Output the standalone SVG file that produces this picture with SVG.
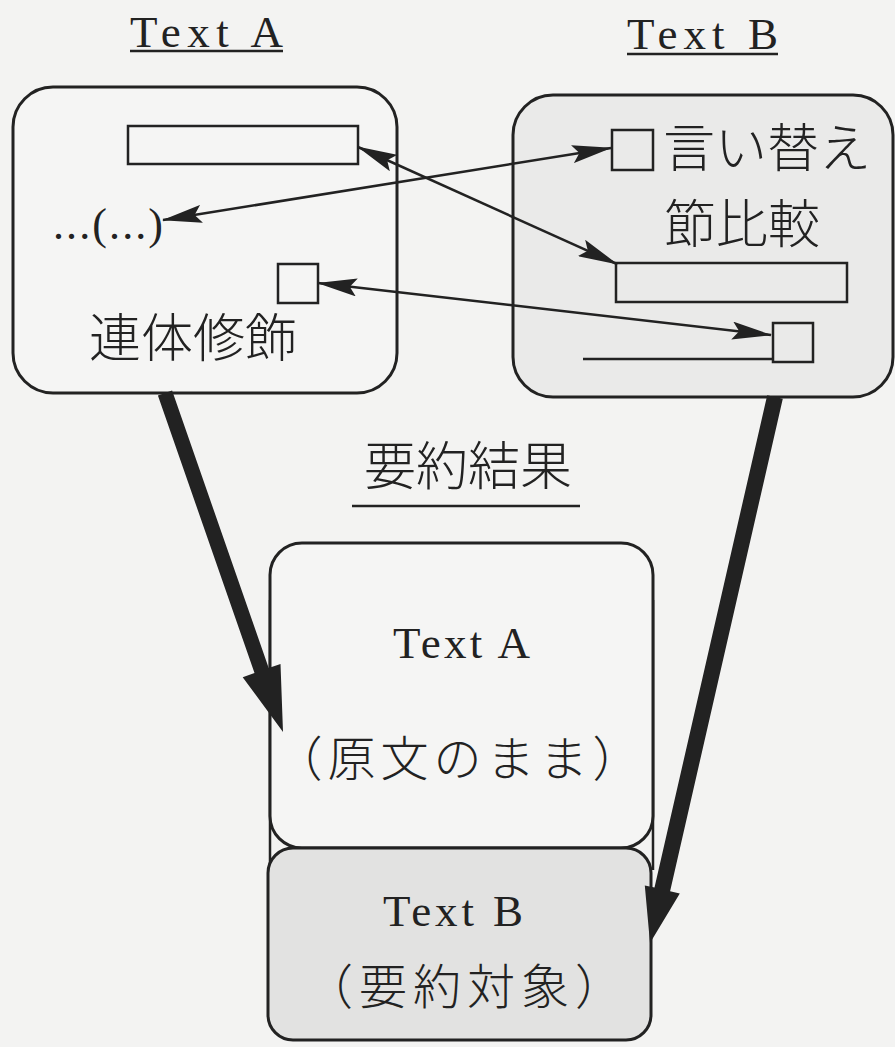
<svg xmlns="http://www.w3.org/2000/svg" width="895" height="1047" viewBox="0 0 895 1047">
<style>
.bg{fill:#f3f3f2}
.box{stroke:#222;stroke-width:3;}
.inner{fill:none;stroke:#222;stroke-width:2.5}
.lat{font-family:"Liberation Serif","Times New Roman",serif;fill:#222}
.jp{font-family:"Noto Sans CJK JP","Noto Sans CJK SC",sans-serif;fill:#222;font-weight:300}
.ul{stroke:#222;stroke-width:2.5}
.thin{fill:none;stroke:#222;stroke-width:2.5;marker-start:url(#ah);marker-end:url(#ah)}
.thick{fill:#222}
</style>
<defs>
<marker id="ah" viewBox="0 0 40 18" refX="39" refY="9" markerWidth="40" markerHeight="18" markerUnits="userSpaceOnUse" orient="auto-start-reverse">
<path d="M0,0 L40,9 L0,18 L7,9 Z" fill="#222"/>
</marker>
</defs>
<rect class="bg" x="0" y="0" width="895" height="1047"/>

<g id="textA-source">
<text class="lat" x="130" y="47" font-size="45" textLength="153" lengthAdjust="spacing">Text A</text>
<line class="ul" x1="130" y1="51" x2="283" y2="51"/>
<rect class="box" x="13" y="87" width="384" height="306" rx="40" fill="#f5f5f4"/>
<rect class="inner" x="128" y="126" width="230" height="38"/>
<text class="lat" x="53" y="239" font-size="44" textLength="110" lengthAdjust="spacing">...(...)</text>
<rect class="inner" x="278" y="264" width="40" height="39"/>
<text class="jp" x="193" y="357" font-size="52" text-anchor="middle">連体修飾</text>
</g>

<g id="textB-source">
<text class="lat" x="627" y="49" font-size="45" textLength="151" lengthAdjust="spacing">Text B</text>
<line class="ul" x1="627" y1="54" x2="778" y2="54"/>
<rect class="box" x="513" y="95" width="380" height="302" rx="40" fill="#eaeae9"/>
<rect class="inner" x="612" y="130" width="41" height="40"/>
<text class="jp" x="767" y="167" font-size="52" text-anchor="middle">言い替え</text>
<text class="jp" x="742" y="243" font-size="52" text-anchor="middle">節比較</text>
<rect class="inner" x="616" y="263" width="231" height="39"/>
<rect class="inner" x="773" y="323" width="40" height="39"/>
<line class="inner" x1="583" y1="359" x2="773" y2="359"/>
</g>

<g id="result-title">
<text class="jp" x="468" y="485" font-size="52" text-anchor="middle">要約結果</text>
<line class="ul" x1="352" y1="506" x2="580" y2="506"/>
</g>

<g id="result-frame">
<line class="inner" x1="270" y1="600" x2="270" y2="870"/>
<line class="inner" x1="653" y1="600" x2="653" y2="870"/>
</g>

<g id="result-textA">
<rect class="box" x="270" y="543" width="383" height="305" rx="32" fill="#f5f5f4" stroke-width="3.5"/>
<text class="lat" x="393" y="658" font-size="45" textLength="137" lengthAdjust="spacing">Text A</text>
<text class="jp" x="460" y="776" font-size="48" letter-spacing="5" text-anchor="middle">（原文のまま）</text>
</g>

<g id="result-textB">
<rect class="box" x="268" y="848" width="383" height="192" rx="25" fill="#e2e2e1"/>
<text class="lat" x="383" y="926" font-size="45" textLength="140" lengthAdjust="spacing">Text B</text>
<text class="jp" x="467" y="1004" font-size="48" letter-spacing="6" text-anchor="middle">（要約対象）</text>
</g>

<g id="connectors">
<line class="thin" x1="163" y1="220" x2="611" y2="148"/>
<line class="thin" x1="358" y1="147" x2="617" y2="264"/>
<line class="thin" x1="318" y1="283" x2="771" y2="335"/>
<polygon class="thick" points="157.9,395.5 172.1,390.5 268.7,668.1 280.5,664.0 283,732 242.7,677.2 254.5,673.1"/>
<polygon class="thick" points="767.2,395.2 782.8,398.8 670.1,891.2 679.8,893.4 650,943 644.8,885.4 654.5,887.6"/>
</g>
</svg>
